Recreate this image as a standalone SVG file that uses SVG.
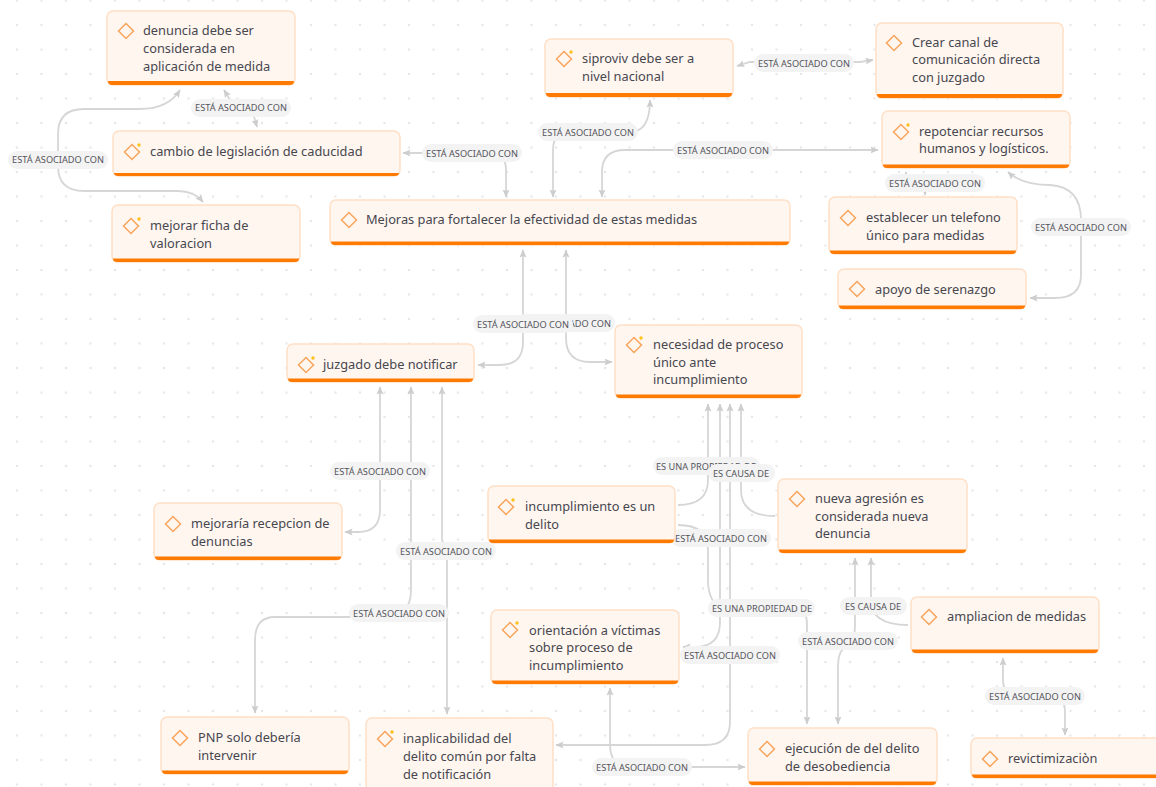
<svg xmlns="http://www.w3.org/2000/svg" width="1156" height="787" viewBox="0 0 1156 787">
<style>
.box{fill:#fff6ef;stroke:#ffdfc6;stroke-width:1.5}
.bar{fill:#ff7a00}
.ic{fill:none;stroke:#f9a55c;stroke-width:1.5}
.dot{fill:#ffc21a}
.t{font-family:"Noto Sans","Open Sans",sans-serif;font-size:12.8px;fill:#474750}
.c{fill:none;stroke:#d6d6d6;stroke-width:1.8}
.p{fill:#f3f3f3}
.l{font-family:"Noto Sans","Open Sans",sans-serif;font-size:9.2px;fill:#55555c;text-anchor:middle}
</style>
<defs>
<pattern id="dots" x="17" y="0.5" width="24.5" height="24.5" patternUnits="userSpaceOnUse"><circle cx="0" cy="0" r="1.3" fill="#e7e7e7"/><circle cx="24.5" cy="0" r="1.3" fill="#e7e7e7"/><circle cx="0" cy="24.5" r="1.3" fill="#e7e7e7"/><circle cx="24.5" cy="24.5" r="1.3" fill="#e7e7e7"/></pattern>
<marker id="a" markerWidth="9" markerHeight="8" refX="7.5" refY="4" orient="auto-start-reverse" markerUnits="userSpaceOnUse"><path d="M0 0.5L8 4L0 7.5L1.5 4Z" fill="#cdcdcd"/></marker>
<path id="d" class="ic" d="M0 -7.500L7.500 0L0 7.500L-7.500 0Z"/>
</defs>
<rect width="1156" height="787" fill="#ffffff"/>
<rect width="1156" height="787" fill="url(#dots)"/>
<g id="connectors" marker-end="url(#a)">
<path class="c" marker-start="url(#a)" marker-end="url(#a)" d="M224 90L232 103H250L257 127"/>
<path class="c" marker-start="url(#a)" marker-end="url(#a)" d="M180 90Q168 109 140 109H84Q58 109 58 134V166Q58 191 84 191H178Q194 191 203 202"/>
<path class="c" marker-start="url(#a)" marker-end="url(#a)" d="M403 153H490Q506 153 506 170V197"/>
<path class="c" marker-start="url(#a)" marker-end="url(#a)" d="M553 197V150Q553 132 570 132H630Q650 132 650 100"/>
<path class="c" marker-start="url(#a)" marker-end="url(#a)" d="M602 197V172Q602 150 625 150H878"/>
<path class="c" marker-start="url(#a)" marker-end="url(#a)" d="M737 66L750 62H860L873 60"/>
<path class="c" marker-start="url(#a)" marker-end="url(#a)" d="M906 172V183H925V195"/>
<path class="c" marker-start="url(#a)" marker-end="url(#a)" d="M1008 172Q1022 185 1050 185Q1081 187 1081 220V275Q1081 298 1055 298H1030"/>
<path class="c" marker-start="url(#a)" marker-end="url(#a)" d="M523 250V342Q523 365 500 365H478"/>
<path class="c" marker-start="url(#a)" marker-end="url(#a)" d="M566 250V338Q566 362 590 362H612"/>
<path class="c" marker-start="url(#a)" marker-end="url(#a)" d="M380 387V510Q380 532 358 532H345"/>
<path class="c" marker-start="url(#a)" marker-end="url(#a)" d="M411 387V590Q411 617 385 617H275Q255 617 255 640V713"/>
<path class="c" marker-start="url(#a)" marker-end="url(#a)" d="M442 387V540Q447 550 447 560V714"/>
<path class="c" marker-start="url(#a)" marker-end="none" d="M708 404V480Q708 505 678 505"/>
<path class="c" marker-start="url(#a)" marker-end="none" d="M741 404V490Q741 516 775 516"/>
<path class="c" marker-start="url(#a)" marker-end="url(#a)" d="M720 404V622Q720 647 695 647H683"/>
<path class="c" marker-start="url(#a)" marker-end="url(#a)" d="M730 404V722Q730 745 705 745H556"/>
<path class="c" marker-end="url(#a)" d="M678 525Q708 525 708 550V580Q708 600 720 608H795Q807 608 807 625V724"/>
<path class="c" marker-start="url(#a)" marker-end="url(#a)" d="M855 558V625Q855 641 848 645Q838 650 838 665V724"/>
<path class="c" marker-start="url(#a)" marker-end="none" d="M871 558V600Q871 625 908 625"/>
<path class="c" marker-start="url(#a)" marker-end="url(#a)" d="M1003 658V680Q1003 696 1020 696H1050Q1065 696 1065 712V735"/>
<path class="c" marker-start="url(#a)" marker-end="url(#a)" d="M610 688V745Q610 767 632 767H745"/>
</g>
<g id="labels">
<rect class="p" x="191" y="99" width="100" height="18" rx="9"/><text class="l" x="241" y="111">ESTÁ ASOCIADO CON</text>
<rect class="p" x="8" y="151" width="100" height="18" rx="9"/><text class="l" x="58" y="163">ESTÁ ASOCIADO CON</text>
<rect class="p" x="422" y="144" width="100" height="18" rx="9"/><text class="l" x="472" y="156.500">ESTÁ ASOCIADO CON</text>
<rect class="p" x="538" y="123" width="100" height="18" rx="9"/><text class="l" x="588" y="135.500">ESTÁ ASOCIADO CON</text>
<rect class="p" x="673" y="141" width="100" height="18" rx="9"/><text class="l" x="723" y="153.500">ESTÁ ASOCIADO CON</text>
<rect class="p" x="754" y="54" width="100" height="18" rx="9"/><text class="l" x="804" y="66.500">ESTÁ ASOCIADO CON</text>
<rect class="p" x="885" y="174" width="100" height="18" rx="9"/><text class="l" x="935" y="186.500">ESTÁ ASOCIADO CON</text>
<rect class="p" x="1031" y="218" width="100" height="18" rx="9"/><text class="l" x="1081" y="230.500">ESTÁ ASOCIADO CON</text>
<rect class="p" x="515" y="314" width="100" height="18" rx="9"/><text class="l" x="565" y="326.500">ESTÁ ASOCIADO CON</text>
<rect class="p" x="473" y="315" width="100" height="18" rx="9"/><text class="l" x="523" y="327.500">ESTÁ ASOCIADO CON</text>
<rect class="p" x="330" y="462" width="100" height="18" rx="9"/><text class="l" x="380" y="474.500">ESTÁ ASOCIADO CON</text>
<rect class="p" x="396" y="542" width="100" height="18" rx="9"/><text class="l" x="446" y="554.500">ESTÁ ASOCIADO CON</text>
<rect class="p" x="349" y="604" width="100" height="18" rx="9"/><text class="l" x="399" y="616.500">ESTÁ ASOCIADO CON</text>
<rect class="p" x="653" y="457" width="107" height="18" rx="9"/><text class="l" x="706" y="469.500">ES UNA PROPIEDAD DE</text>
<rect class="p" x="708" y="464" width="67" height="18" rx="9"/><text class="l" x="741" y="476.500">ES CAUSA DE</text>
<rect class="p" x="671" y="529" width="100" height="18" rx="9"/><text class="l" x="721" y="541.500">ESTÁ ASOCIADO CON</text>
<rect class="p" x="708" y="599" width="107" height="18" rx="9"/><text class="l" x="762" y="611.500">ES UNA PROPIEDAD DE</text>
<rect class="p" x="840" y="597" width="67" height="18" rx="9"/><text class="l" x="873" y="609.500">ES CAUSA DE</text>
<rect class="p" x="798" y="632" width="100" height="18" rx="9"/><text class="l" x="848" y="644.500">ESTÁ ASOCIADO CON</text>
<rect class="p" x="680" y="646" width="100" height="18" rx="9"/><text class="l" x="730" y="658.500">ESTÁ ASOCIADO CON</text>
<rect class="p" x="985" y="687" width="100" height="18" rx="9"/><text class="l" x="1035" y="699.500">ESTÁ ASOCIADO CON</text>
<rect class="p" x="592" y="758" width="100" height="18" rx="9"/><text class="l" x="642" y="770.500">ESTÁ ASOCIADO CON</text>
</g>
<g id="n1"><rect class="box" x="107" y="11" width="188" height="74" rx="6"/><path class="bar" d="M108 81H294Q294 85 290 85H112Q108 85 108 81Z"/><use href="#d" x="126" y="31"/><text class="t"><tspan x="143" y="35">denuncia debe ser</tspan><tspan x="143" y="53">considerada en</tspan><tspan x="143" y="70.500">aplicación de medida</tspan></text></g>
<g id="n2"><rect class="box" x="113" y="131" width="287" height="45" rx="6"/><path class="bar" d="M114 173H399Q399 176 395 176H118Q114 176 114 173Z"/><use href="#d" x="132" y="152"/><circle class="dot" cx="139" cy="145" r="1.7"/><text class="t" x="150" y="155.500">cambio de legislación de caducidad</text></g>
<g id="n3"><rect class="box" x="112" y="205" width="188" height="57" rx="6"/><path class="bar" d="M113 258.500H299Q299 262 295 262H117Q113 262 113 258.500Z"/><use href="#d" x="131" y="226"/><circle class="dot" cx="139" cy="219" r="1.7"/><text class="t"><tspan x="150" y="230">mejorar ficha de</tspan><tspan x="150" y="247.500">valoracion</tspan></text></g>
<g id="n4"><rect class="box" x="330" y="200" width="460" height="45" rx="6"/><path class="bar" d="M331 241.500H789Q789 245 785 245H335Q331 245 331 241.500Z"/><use href="#d" x="349" y="220"/><text class="t" x="366" y="224">Mejoras para fortalecer la efectividad de estas medidas</text></g>
<g id="n5"><rect class="box" x="545" y="39" width="188" height="58" rx="6"/><path class="bar" d="M546 93H732Q732 97 728 97H550Q546 97 546 93Z"/><use href="#d" x="564" y="59"/><circle class="dot" cx="571" cy="52" r="1.7"/><text class="t"><tspan x="582" y="63">siproviv debe ser a</tspan><tspan x="582" y="81">nivel nacional</tspan></text></g>
<g id="n6"><rect class="box" x="876" y="23" width="187" height="75" rx="6"/><path class="bar" d="M877 94H1062Q1062 98 1058 98H881Q877 98 877 94Z"/><use href="#d" x="894" y="43"/><text class="t"><tspan x="912" y="47">Crear canal de</tspan><tspan x="912" y="64">comunicación directa</tspan><tspan x="912" y="82">con juzgado</tspan></text></g>
<g id="n7"><rect class="box" x="882" y="111" width="188" height="57" rx="6"/><path class="bar" d="M883 164.500H1069Q1069 168 1065 168H887Q883 168 883 164.500Z"/><use href="#d" x="901" y="132"/><circle class="dot" cx="908" cy="125" r="1.7"/><text class="t"><tspan x="919" y="136">repotenciar recursos</tspan><tspan x="919" y="153">humanos y logísticos.</tspan></text></g>
<g id="n8"><rect class="box" x="829" y="197" width="188" height="57" rx="6"/><path class="bar" d="M830 250.500H1016Q1016 254 1012 254H834Q830 254 830 250.500Z"/><use href="#d" x="848" y="218"/><text class="t"><tspan x="866" y="222">establecer un telefono</tspan><tspan x="866" y="240">único para medidas</tspan></text></g>
<g id="n9"><rect class="box" x="838" y="269" width="188" height="40" rx="6"/><path class="bar" d="M839 305.500H1025Q1025 309 1021 309H843Q839 309 839 305.500Z"/><use href="#d" x="857" y="289"/><text class="t" x="875" y="293.500">apoyo de serenazgo</text></g>
<g id="n10"><rect class="box" x="287" y="344" width="187" height="38" rx="6"/><path class="bar" d="M288 378.500H473Q473 382 469 382H292Q288 382 288 378.500Z"/><use href="#d" x="306" y="365"/><circle class="dot" cx="313" cy="358" r="1.7"/><text class="t" x="323" y="369">juzgado debe notificar</text></g>
<g id="n11"><rect class="box" x="615" y="325" width="187" height="73" rx="6"/><path class="bar" d="M616 394.500H801Q801 398 797 398H620Q616 398 616 394.500Z"/><use href="#d" x="634" y="345"/><circle class="dot" cx="641" cy="338" r="1.7"/><text class="t"><tspan x="653" y="349">necesidad de proceso</tspan><tspan x="653" y="366.500">único ante</tspan><tspan x="653" y="384">incumplimiento</tspan></text></g>
<g id="n12"><rect class="box" x="488" y="486" width="187" height="57" rx="6"/><path class="bar" d="M489 539.500H674Q674 543 670 543H493Q489 543 489 539.500Z"/><use href="#d" x="506" y="507"/><circle class="dot" cx="513" cy="500" r="1.7"/><text class="t"><tspan x="525" y="511">incumplimiento es un</tspan><tspan x="525" y="529">delito</tspan></text></g>
<g id="n13"><rect class="box" x="778" y="479" width="189" height="74" rx="6"/><path class="bar" d="M779 549.500H966Q966 553 962 553H783Q779 553 779 549.500Z"/><use href="#d" x="797" y="499"/><text class="t"><tspan x="815" y="503">nueva agresión es</tspan><tspan x="815" y="521">considerada nueva</tspan><tspan x="815" y="538">denuncia</tspan></text></g>
<g id="n14"><rect class="box" x="154" y="503" width="188" height="57" rx="6"/><path class="bar" d="M155 556.500H341Q341 560 337 560H159Q155 560 155 556.500Z"/><use href="#d" x="173" y="524"/><text class="t"><tspan x="191" y="528">mejoraría recepcion de</tspan><tspan x="191" y="546">denuncias</tspan></text></g>
<g id="n15"><rect class="box" x="491" y="610" width="188" height="74" rx="6"/><path class="bar" d="M492 680.500H678Q678 684 674 684H496Q492 684 492 680.500Z"/><use href="#d" x="510" y="630"/><circle class="dot" cx="517" cy="623" r="1.7"/><text class="t"><tspan x="529" y="634.500">orientación a víctimas</tspan><tspan x="529" y="652">sobre proceso de</tspan><tspan x="529" y="670">incumplimiento</tspan></text></g>
<g id="n16"><rect class="box" x="911" y="597" width="188" height="56" rx="6"/><path class="bar" d="M912 649.500H1098Q1098 653 1094 653H916Q912 653 912 649.500Z"/><use href="#d" x="929" y="617"/><text class="t" x="947" y="621">ampliacion de medidas</text></g>
<g id="n17"><rect class="box" x="161" y="717" width="188" height="57" rx="6"/><path class="bar" d="M162 770.500H348Q348 774 344 774H166Q162 774 162 770.500Z"/><use href="#d" x="180" y="738"/><text class="t"><tspan x="198" y="742">PNP solo debería</tspan><tspan x="198" y="760">intervenir</tspan></text></g>
<g id="n18"><rect class="box" x="366" y="718" width="187" height="80" rx="6"/><use href="#d" x="385" y="739"/><circle class="dot" cx="392" cy="732" r="1.7"/><text class="t"><tspan x="403" y="743">inaplicabilidad del</tspan><tspan x="403" y="761">delito común por falta</tspan><tspan x="403" y="779">de notificación</tspan></text></g>
<g id="n19"><rect class="box" x="748" y="728" width="189" height="57" rx="6"/><path class="bar" d="M749 781.500H936Q936 785 932 785H753Q749 785 749 781.500Z"/><use href="#d" x="767" y="749"/><text class="t"><tspan x="785" y="753">ejecución de del delito</tspan><tspan x="785" y="771">de desobediencia</tspan></text></g>
<g id="n20"><rect class="box" x="971" y="738" width="200" height="40" rx="6"/><path class="bar" d="M972 774.500H1171V778H976Q972 778 972 774.500Z"/><use href="#d" x="990" y="759"/><text class="t" x="1008" y="763">revictimizaciòn</text></g>
</svg>
